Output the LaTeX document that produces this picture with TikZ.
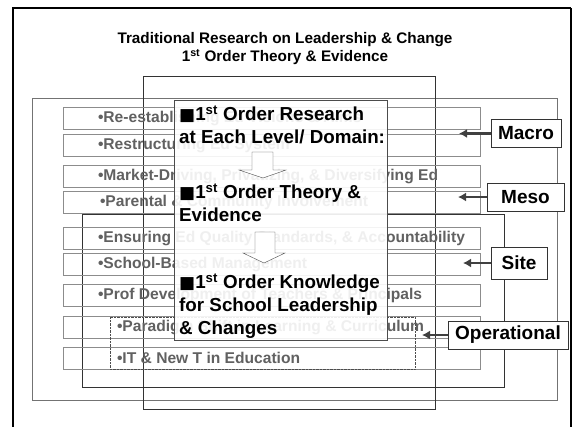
\documentclass[tikz,border=0pt]{standalone}
\usepackage{fontspec}
\setmainfont{Liberation Sans}
\newfontfamily\symfont{DejaVu Sans}
\usetikzlibrary{positioning,arrows.meta}

\newcommand{\blsq}{{\symfont\fontsize{17}{17}\selectfont ■}}

\begin{document}
\begin{tikzpicture}[x=1pt,y=-1pt,
    rowbox/.style={draw=black!45,minimum width=417pt,minimum height=22pt,inner sep=0pt},
    rowtext/.style={anchor=west,inner sep=0pt,text=black!62,font=\bfseries\fontsize{15.6}{17}\selectfont},
    levelbox/.style={draw=black!80,fill=white,minimum height=28pt,inner sep=2pt,font=\bfseries\fontsize{19}{22}\selectfont},
    levelarrow/.style={line width=2.4pt,black!75,-{Latex[length=8pt,width=9pt]}},
    bigtext/.style={anchor=west,inner sep=0pt,align=left,font=\bfseries\fontsize{18.8}{23}\selectfont}]
  \useasboundingbox (0,0) rectangle (573,426);
  \clip (0,0) rectangle (573,426);
  \fill[white] (0,0) rectangle (573,426);
  % slide frame
  \draw[line width=2.5pt] (13,430) -- (13,8) -- (571,8);
  \draw[line width=1.5pt] (571,8) -- (571,430);
  \node[font=\bfseries\fontsize{15.3}{18}\selectfont,align=center] (title) at (285,49)
    {Traditional Research on Leadership \& Change\\1\textsuperscript{st} Order Theory \& Evidence};
  % level frames
  \draw[black!55] (32,98) rectangle (557,400);
  \draw[black!80] (143,76) rectangle (435,409);
  \draw[black!80] (82,214) rectangle (504,387);
  % rows
  \foreach \n/\y/\dx/\txt in {
      1/118.5/35pt/{•Re-establishing Ed Visions \& Aims},
      2/145/35pt/{•Restructuring Ed System},
      3/176/35pt/{•Market-Driving, Privatizing, \& Diversifying  Ed},
      4/202/37pt/{•Parental \& Community Involvement},
      5/238/35pt/{•Ensuring Ed Quality Standards, \& Accountability},
      6/264/35pt/{•School-Based Management},
      7/295.5/35pt/{•Prof Development of Teachers \& Principals},
      8/327/54pt/{•Paradigm Shift in Learning \& Curriculum},
      9/358/54pt/{•IT \& New T in Education}}
  {
    \node[rowbox] (r\n) at (271.5,\y) {};
    \node[rowtext,right=\dx of r\n.west] (t\n) {\txt};
  }
  \draw[black!70,densely dotted] (110,317) rectangle (415,369);
  % front panel
  \draw[black!70,fill=white,fill opacity=0.9] (174,100) rectangle (387,340);
  \node[bigtext] (q1) at (179,125) {\blsq1\textsuperscript{st} Order Research\\at Each Level/ Domain:};
  \node[bigtext] (q2) at (179,203) {\blsq1\textsuperscript{st} Order Theory \&\\Evidence};
  \node[bigtext] (q3) at (179,306) {\blsq1\textsuperscript{st} Order Knowledge\\for School Leadership\\\& Changes};
  \draw[black!70,fill=white] (252,152) -- (273,152) -- (273,170) -- (286,170) -- (263,178)
    -- (239,170) -- (252,170) -- cycle;
  \draw[black!70,fill=white] (255,232) -- (275,232) -- (275,253) -- (285,253) -- (264,263)
    -- (243,253) -- (255,253) -- cycle;
  % level labels
  \node[levelbox,minimum width=70pt] (macro) at (526,133.5) {Macro};
  \node[levelbox,minimum width=77pt] (meso) at (525.5,197) {Meso};
  \node[levelbox,minimum width=56pt,minimum height=32pt] (site) at (519,263) {Site};
  \node[levelbox,minimum width=120pt] (oper) at (508,335) {Operational};
  \coordinate (macroend) at (459,133.5);
  \coordinate (mesoend) at (458,197);
  \coordinate (siteend) at (463,263);
  \coordinate (operend) at (422,335);
  \draw[levelarrow] (macro) -- (macroend);
  \draw[levelarrow] (meso) -- (mesoend);
  \draw[levelarrow] (site) -- (siteend);
  \draw[levelarrow] (oper) -- (operend);
\end{tikzpicture}
\end{document}
